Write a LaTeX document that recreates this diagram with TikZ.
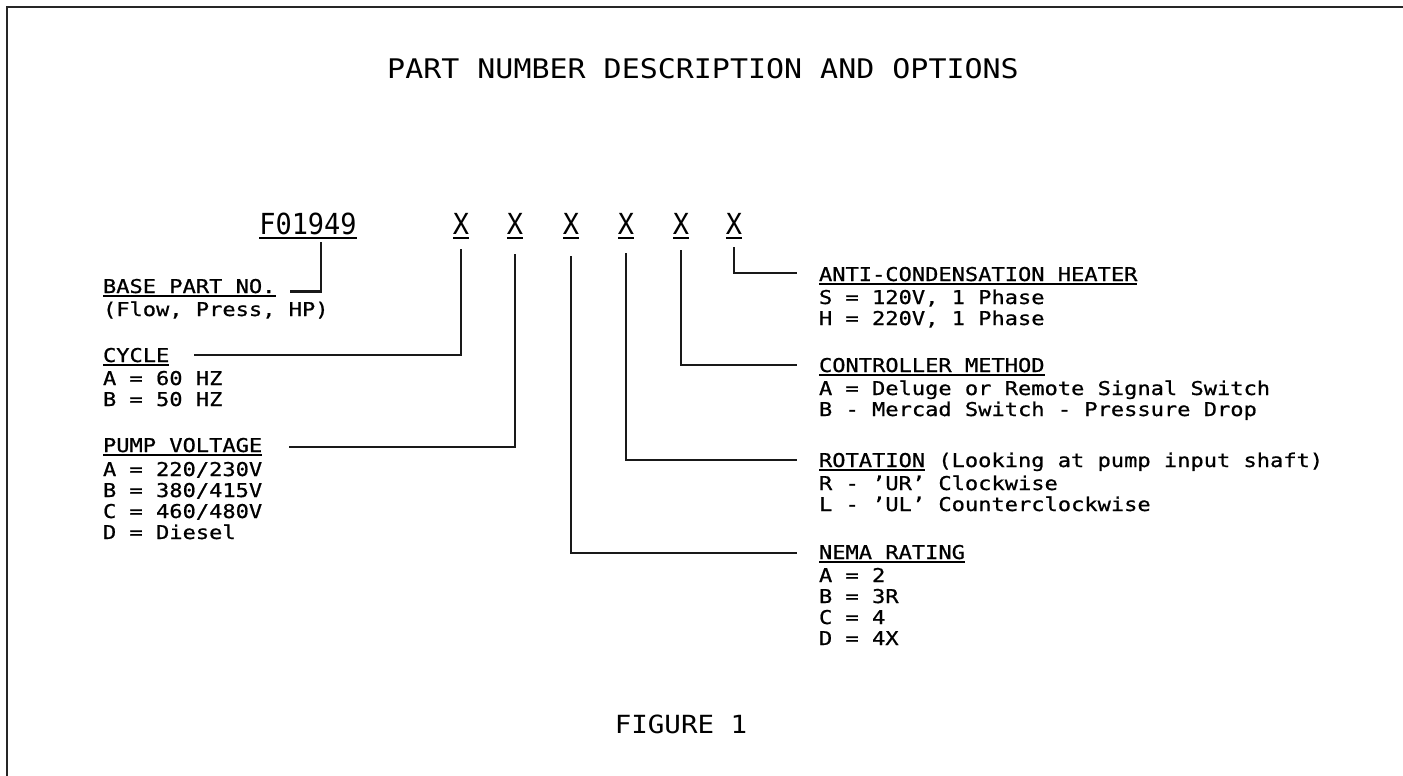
\documentclass[tikz,border=0pt]{standalone}
\usepackage{fontspec}
\newfontfamily\bodyf[FakeStretch=1.16,FakeBold=0.8]{DejaVu Sans Mono}
\newfontfamily\titlef[FakeStretch=1.11]{DejaVu Sans Mono}
\newfontfamily\pnf[FakeStretch=0.93]{DejaVu Sans Mono}
\newfontfamily\figf[FakeStretch=1.1]{DejaVu Sans Mono}
\tikzset{
  txt/.style={inner sep=0pt, outer sep=0pt, anchor=base west, font=\bodyf\fontsize{19}{23}\selectfont},
  ttl/.style={inner sep=0pt, outer sep=0pt, anchor=base, font=\titlef\fontsize{27}{32}\selectfont},
  pn/.style={inner sep=0pt, outer sep=0pt, anchor=base, font=\pnf\fontsize{29}{34}\selectfont},
  fig/.style={inner sep=0pt, outer sep=0pt, anchor=base, font=\figf\fontsize{25}{30}\selectfont},
  conn/.style={line width=2.2pt, black!90},
  ul/.style={line width=1.8pt},
  frame/.style={line width=2.6pt, black!85},
}
\begin{document}
\begin{tikzpicture}[x=1pt,y=-1pt]
\useasboundingbox (0,0) rectangle (1403,776);
\fill[white] (0,0) rectangle (1403,776);
\draw[frame] (1403,7) -- (7,7) -- (7,776);

% title
\node[ttl] (title) at (703,78) {PART NUMBER DESCRIPTION AND OPTIONS};

% part number
\node[pn] (f) at (308,234) {F01949};
\draw[ul] ([yshift=-4pt]f.base west) -- ([yshift=-4pt]f.base east);
\node[pn] (x1) at (461,234) {X};
\node[pn] (x2) at (515,234) {X};
\node[pn] (x3) at (571,234) {X};
\node[pn] (x4) at (626,234) {X};
\node[pn] (x5) at (681,234) {X};
\node[pn] (x6) at (734,234) {X};
\foreach \n in {x1,x2,x3,x4,x5,x6}
  \draw[ul] ([yshift=-4pt]\n.base west) -- ([yshift=-4pt]\n.base east);

\coordinate (vf) at (321,242);
\coordinate (v1) at (461,249);
\coordinate (v2) at (515,254);
\coordinate (v3) at (571,256);
\coordinate (v4) at (626,253);
\coordinate (v5) at (681,250);
\coordinate (v6) at (734,247);

% left column
\node[txt] (bpn) at (103,293) {BASE PART NO.};
\draw[ul] ([yshift=-3pt]bpn.base west) -- ([yshift=-3pt]bpn.base east);
\node[txt] (bpn1) at (103,316) {(Flow, Press, HP)};

\node[txt] (cyc) at (103,362) {CYCLE};
\draw[ul] ([yshift=-3pt]cyc.base west) -- ([yshift=-3pt]cyc.base east);
\node[txt] (cyc1) at (103,385) {A = 60 HZ};
\node[txt] (cyc2) at (103,406) {B = 50 HZ};

\node[txt] (pv) at (103,452) {PUMP VOLTAGE};
\draw[ul] ([yshift=-3pt]pv.base west) -- ([yshift=-3pt]pv.base east);
\node[txt] (pv1) at (103,476) {A = 220/230V};
\node[txt] (pv2) at (103,497) {B = 380/415V};
\node[txt] (pv3) at (103,518) {C = 460/480V};
\node[txt] (pv4) at (103,539) {D = Diesel};

% right column
\node[txt] (ach) at (819,281) {ANTI-CONDENSATION HEATER};
\draw[ul] ([yshift=-3pt]ach.base west) -- ([yshift=-3pt]ach.base east);
\node[txt] (ach1) at (819,304) {S = 120V, 1 Phase};
\node[txt] (ach2) at (819,325) {H = 220V, 1 Phase};

\node[txt] (cm) at (819,372) {CONTROLLER METHOD};
\draw[ul] ([yshift=-3pt]cm.base west) -- ([yshift=-3pt]cm.base east);
\node[txt] (cm1) at (819,395) {A = Deluge or Remote Signal Switch};
\node[txt] (cm2) at (819,416) {B - Mercad Switch - Pressure Drop};

\node[txt] (rot) at (819,467) {ROTATION};
\draw[ul] ([yshift=-3pt]rot.base west) -- ([yshift=-3pt]rot.base east);
\node[txt] (rotx) at ([xshift=13.2pt]rot.base east) {(Looking at pump input shaft)};
\node[txt] (rot1) at (819,490) {R - ’UR’ Clockwise};
\node[txt] (rot2) at (819,511) {L - ’UL’ Counterclockwise};

\node[txt] (nema) at (819,559) {NEMA RATING};
\draw[ul] ([yshift=-3pt]nema.base west) -- ([yshift=-3pt]nema.base east);
\node[txt] (nema1) at (819,582) {A = 2};
\node[txt] (nema2) at (819,603) {B = 3R};
\node[txt] (nema3) at (819,624) {C = 4};
\node[txt] (nema4) at (819,645) {D = 4X};

% connectors
\draw[conn] (vf) |- ([xshift=14pt,yshift=1.5pt]bpn.base east);
\draw[conn] (v1) |- ([xshift=25pt,yshift=7pt]cyc.base east);
\draw[conn] (v2) |- ([xshift=27pt,yshift=5pt]pv.base east);
\draw[conn] (v3) |- ([xshift=-22pt,yshift=6pt]nema.base west);
\draw[conn] (v4) |- ([xshift=-22pt,yshift=7pt]rot.base west);
\draw[conn] (v5) |- ([xshift=-22pt,yshift=7pt]cm.base west);
\draw[conn] (v6) |- ([xshift=-22pt,yshift=8pt]ach.base west);

% figure label
\node[fig] (figl) at (681,733) {FIGURE 1};
\end{tikzpicture}
\end{document}
